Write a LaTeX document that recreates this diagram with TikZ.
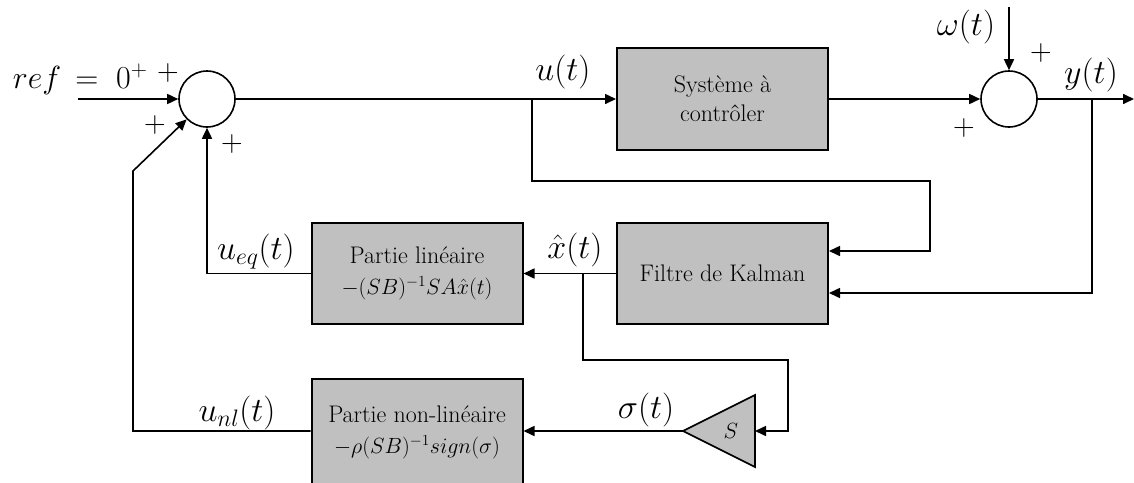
\RequirePackage{fix-cm}
\documentclass[tikz,border=0pt]{standalone}
\usetikzlibrary{arrows.meta}
\definecolor{boxgray}{RGB}{192,192,192}
\newcommand{\mathsz}{\fontsize{22}{29}\selectfont}
\begin{document}
\begin{tikzpicture}[x=1pt,y=-1pt,
  line width=1.6pt,
  >={Triangle[length=11pt,width=10pt]},
  blk/.style={draw,fill=boxgray,line width=2pt,minimum width=211pt,minimum height=101pt,inner sep=0pt,align=center,font=\fontsize{24}{29}\selectfont},
  sumc/.style={draw,circle,minimum size=56pt,inner sep=0pt,line width=1.6pt},
  lbl/.style={font=\fontsize{34}{40}\selectfont,inner sep=0pt},
  sgn/.style={font=\fontsize{30}{36}\selectfont,inner sep=0pt}]
\useasboundingbox (0,0) rectangle (1134,482);
\clip (0,0) rectangle (1134,482);
\fill[white] (0,0) rectangle (1134,482);

% blocks
\node[sumc] (s1) at (207,99) {};
\node[sumc] (s2) at (1009,99) {};
\node[blk,minimum height=102pt] (sys) at (722.5,99) {Système à\\contrôler};
\node[blk] (kal) at (722.5,273.5) {Filtre de Kalman};
\node[blk] (lin) at (417,273.5) {Partie linéaire\\[2pt]{\mathsz$-(SB)^{-1}SA\hat{x}(t)$}};
\node[blk,minimum height=106pt] (nl) at (417,432) {Partie non-linéaire\\[2pt]{\mathsz$-\rho(SB)^{-1}sign(\sigma)$}};

% gain triangle S
\coordinate (stip) at (683,431);
\coordinate (sbase) at (755,431);
\draw[fill=boxgray] (stip) -- (755,395) -- (755,467) -- cycle;
\node[font=\fontsize{22}{26}\selectfont,inner sep=0pt] (sS) at (731,431) {$S$};

% helper coordinates
\coordinate (refin) at (78,99);
\coordinate (bu) at (532,99);
\coordinate (w0) at (1009,7);
\coordinate (yout) at (1134,99);
\coordinate (by) at (1092,99);
\coordinate (bx) at (583,274);
\coordinate (k1) at (930,251);
\coordinate (k2) at (1092,293);
\coordinate (f1) at (788,360);
\coordinate (f2) at (788,431);
\coordinate (d1) at (133,431);
\coordinate (d2) at (133,171);

% connectors
\draw[->] (refin) -- (s1.west);
\draw[->] (s1.east) -- (sys.west);
\draw[->] (bu) -- (532,181) -- (930,181) -- (k1) -- (k1 -| kal.east);
\draw[->] (sys.east) -- (s2.west);
\draw[->] (w0) -- (s2.north);
\draw[->] (s2.east) -- (yout);
\draw[->] (by) -- (k2) -- (k2 -| kal.east);
\draw[->] (kal.west) -- (lin.east);
\draw[->] (bx) -- (bx |- f1) -- (f1) -- (f2) -- (sbase);
\draw[->] (stip) -- (stip -| nl.east);
\draw[->] (lin.west) -- (lin.west -| s1.south) -- (s1.south);
\draw[->] (nl.west |- d1) -- (d1) -- (d2) -- (s1.225);

% labels
\node[lbl,anchor=base west,font=\fontsize{32}{38}\selectfont] (lref) at (12,88) {$ref\,=\;0^{+}$};
\node[sgn] (p1) at (168,73) {$+$};
\node[sgn] (p2) at (155,125) {$+$};
\node[sgn] (p3) at (232,144) {$+$};
\node[sgn] (p4) at (1041,53) {$+$};
\node[sgn] (p5) at (964,128) {$+$};
\node[lbl] (lu) at (563,72) {$u(t)$};
\node[lbl] (lw) at (966,27) {$\omega(t)$};
\node[lbl] (ly) at (1091,75) {$y(t)$};
\node[lbl] (lx) at (575,250) {$\hat{x}(t)$};
\node[lbl] (lueq) at (256,252) {$u_{eq}(t)$};
\node[lbl] (lunl) at (237,413) {$u_{nl}(t)$};
\node[lbl] (ls) at (646,410) {$\sigma(t)$};
\end{tikzpicture}
\end{document}
